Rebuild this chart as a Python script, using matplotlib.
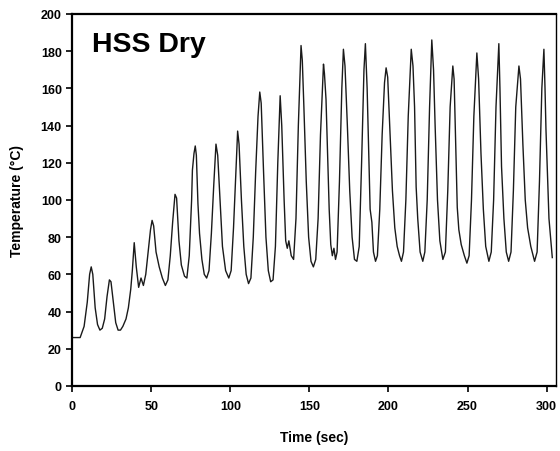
import matplotlib.pyplot as plt

# (time, temperature)
time_s = [0, 5, 7.5, 9.5, 11, 12, 13, 14.5, 16, 17.5, 19, 20.5, 22, 23.5, 24.5, 26, 27.5, 29, 30.5,
          32, 34, 35.5, 37, 38, 39.2, 40.5, 42, 43.5, 45, 46.5, 48, 49.5, 50.5, 51.5, 53, 55, 57, 58.9,
          60.5, 62, 63.5, 65, 66, 67.5, 69, 71, 72.5, 74, 75.5, 76, 77, 77.8, 78.5, 79.5, 80.5, 82,
          83.5, 85, 86.5, 88, 89.5, 90.9, 92, 93.5, 95, 97, 99, 100.5, 102, 103.5, 104.6, 105.5, 107,
          108.5, 110, 111.5, 113, 114.5, 116, 117.5, 118.6, 119.5, 121, 122.5, 124, 125.5, 127, 128.5,
          130, 131.5, 132.5, 134, 135, 136, 137, 138.5, 140, 141.5, 143, 144.7, 145.5, 146.5, 148,
          149.5, 151, 152.5, 154, 155.5, 157, 158.9, 159.5, 160.5, 161.5, 162.5, 163.5, 164.5, 165.5,
          166.5, 167.5, 169, 170.5, 171.5, 172.5, 174, 175.5, 177, 178.5, 180, 181.5, 183, 184.5,
          185.4, 186.5, 187.5, 188.4, 189.5, 190.5, 191.8, 193, 194.5, 196, 197.5, 198.5, 199.5, 201,
          202.5, 204, 205.5, 207, 208.2, 209.5, 211, 212.5, 214.4, 215.5, 216.5, 217.5, 218.5, 220,
          221.7, 223, 224.5, 226, 227.4, 228.5, 229.5, 231, 232.5, 234.4, 236, 237.5, 239, 240.7,
          241.5, 242.5, 243.5, 244.5, 246, 248, 249.6, 251, 252.5, 254, 255.9, 257, 258.5, 260, 261.5,
          263.5, 265, 266.5, 268, 269.8, 270.5, 271.5, 273, 274.5, 276, 277.5, 279, 280.5, 282.5,
          283.5, 285, 286.5, 288, 290, 292.4, 294, 295.5, 297, 298.3, 299, 299.6, 300.5, 301.5, 303.6]

temp_c = [26, 26, 32, 45, 60, 64, 60, 42, 33, 30, 31, 36, 48, 57, 56, 45, 34, 30, 30,
          32, 36, 42, 52, 62, 77, 64, 53, 58, 54, 60, 72, 84, 89, 86, 72, 64, 58, 54,
          57, 70, 88, 103, 101, 78, 65, 59, 58, 70, 100, 116, 125, 129, 124, 98, 82, 68,
          60, 58, 62, 82, 108, 130, 124, 100, 75, 62, 58, 62, 85, 115, 137, 130, 100,
          75, 60, 55, 58, 80, 115, 145, 158, 152, 115, 80, 62, 56, 57, 75,
          120, 156, 140, 100, 78, 74, 78, 70, 68, 90, 140, 183, 175, 150, 110,
          80, 67, 64, 68, 90, 135, 173, 168, 154, 125, 95, 76, 70, 74,
          68, 72, 110, 160, 181, 172, 140, 105, 80, 68, 67, 75, 120, 170,
          184, 160, 127, 95, 88, 72, 67, 70, 95, 135, 163, 171, 166, 135,
          105, 85, 75, 70, 67, 72, 100, 145, 181, 172, 150, 107, 90, 72,
          67, 72, 100, 150, 186, 170, 140, 100, 78, 68, 72, 105, 150, 172,
          165, 130, 96, 84, 76, 70, 66, 70, 100, 145, 179, 165, 125, 95, 75,
          67, 72, 100, 150, 184, 160, 118, 90, 72, 67, 72, 105, 150, 172,
          165, 130, 100, 85, 75, 67, 72, 110, 160, 181, 160, 138, 115, 90, 69]

x_ticks = [0, 50, 100, 150, 200, 250, 300]
y_ticks = list(range(0, 201, 20))

fig = plt.figure(figsize=(5.6, 4.52), dpi=100)
ax = fig.add_axes([0.129, 0.144, 0.864, 0.823])

ax.plot(time_s, temp_c, color='#1a1a1a', lw=1.0)

ax.set_xlim(0, 306)
ax.set_ylim(0, 200)
ax.set_xticks(x_ticks)
ax.set_yticks(y_ticks)
ax.tick_params(direction='out', length=4, width=1.2, labelsize=9)
ax.tick_params(axis='x', pad=6)
for lab in ax.get_xticklabels() + ax.get_yticklabels():
    lab.set_fontweight('bold')
    lab.set_family('Liberation Sans')

for side in ['left', 'bottom', 'top']:
    ax.spines[side].set_linewidth(1.6)
ax.spines['right'].set_linewidth(1.0)

ax.set_xlabel('Time (sec)', fontsize=10, fontweight='bold', family='Liberation Sans', labelpad=13)
ax.set_ylabel('Temperature (°C)', fontsize=10, fontweight='bold', family='Liberation Sans',
              labelpad=12)

ax.text(0.04, 0.92, 'HSS Dry', transform=ax.transAxes, fontsize=20.5, fontweight='bold',
        family='Liberation Sans', va='center', ha='left')

fig.savefig('out.png', dpi=100)
